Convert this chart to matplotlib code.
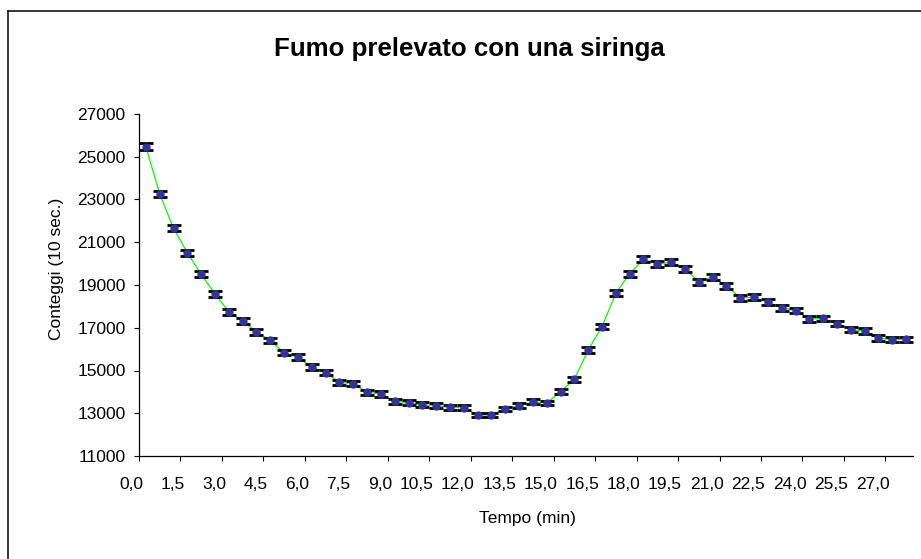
import matplotlib
matplotlib.use("Agg")
import matplotlib.pyplot as plt
from matplotlib.lines import Line2D
import numpy as np

plt.rcParams['font.family'] = ['Liberation Sans', 'DejaVu Sans']

# ---- data ----
title = "Fumo prelevato con una siringa"
x_label = "Tempo (min)"
y_label = "Conteggi (10 sec.)"
time_labels = ["0,0", "1,5", "3,0", "4,5", "6,0", "7,5", "9,0", "10,5", "12,0",
               "13,5", "15,0", "16,5", "18,0", "19,5", "21,0", "22,5", "24,0",
               "25,5", "27,0"]
counts = [25470, 23260, 21650, 20510, 19500, 18580, 17750, 17320, 16800, 16410,
          15830, 15630, 15160, 14900, 14450, 14380, 13990, 13900, 13560, 13500,
          13390, 13360, 13280, 13250, 12920, 12920, 13200, 13360, 13530, 13480,
          14010, 14590, 15960, 17050, 18610, 19530, 20200, 19980, 20060, 19760,
          19160, 19370, 18970, 18410, 18420, 18190, 17940, 17800, 17410, 17440,
          17190, 16910, 16860, 16520, 16440, 16460]
errors = [160, 152, 147, 143, 140, 136, 133, 132, 130, 128, 126, 125, 123, 122,
          120, 120, 118, 118, 116, 116, 116, 116, 115, 115, 114, 114, 115, 116,
          116, 116, 118, 121, 126, 131, 136, 140, 142, 141, 142, 141, 138, 139,
          138, 136, 136, 135, 134, 133, 132, 132, 131, 130, 130, 129, 128, 128]
y_ticks = [11000, 13000, 15000, 17000, 19000, 21000, 23000, 25000, 27000]

W, H = 921, 559
fig = plt.figure(figsize=(W / 100, H / 100), dpi=100)
fig.patch.set_facecolor('white')

# plot area in pixels
L, R, T, B = 139, 913, 114, 456
ax = fig.add_axes([L / W, 1 - B / H, (R - L) / W, (B - T) / H])

n = len(counts)
xs = np.arange(n)

ax.plot(xs, counts, color='#00FF00', lw=0.9, zorder=1)
ax.errorbar(xs, counts, yerr=errors, fmt='none', ecolor='black', elinewidth=1.0,
            capsize=4.7, capthick=2.0, zorder=2)
ax.plot(xs, counts, 'o', color='#333399', markersize=5.0, markeredgecolor='#333399',
        zorder=3, linestyle='none')

ax.set_xlim(-0.5, n - 0.5)
ax.set_ylim(y_ticks[0], y_ticks[-1])

# y axis
ax.set_yticks(y_ticks)
ax.set_yticklabels([str(v) for v in y_ticks])
ax.tick_params(axis='y', direction='out', length=3.6, width=0.8, pad=6.0,
               labelsize=12.5, colors='black')

# x axis: tick marks between category groups, labels right-aligned near ticks
group = 3
major_pos = [-0.5 + group * k for k in range(len(time_labels))]
label_pos = [p + 0.29 for p in major_pos]
ax.set_xticks(major_pos)
ax.set_xticklabels([''] * len(major_pos))
ax.set_xticks(label_pos, minor=True)
ax.set_xticklabels(time_labels, minor=True, ha='right')
ax.tick_params(axis='x', which='major', direction='out', length=3.6, width=0.8)
ax.tick_params(axis='x', which='minor', length=0, pad=15.0, labelsize=12.5)

for s in ['top', 'right']:
    ax.spines[s].set_visible(False)
for s in ['left', 'bottom']:
    ax.spines[s].set_color('black')
    ax.spines[s].set_linewidth(0.9)

# texts
fig.text(469 / W, 1 - 56 / H, title, ha='center', va='baseline',
         fontsize=18.6, fontweight='bold')
fig.text(527 / W, 1 - 523 / H, x_label, ha='center', va='baseline', fontsize=12.5)
fig.text(56 / W, 1 - 269 / H, y_label, ha='center', va='center', rotation=90,
         fontsize=12.5)

# chart-area border (only left and top visible in the crop)
fig.add_artist(Line2D([7.5 / W, 7.5 / W], [1 - 10.5 / H, 0], transform=fig.transFigure,
                      color='black', lw=1.1))
fig.add_artist(Line2D([7.5 / W, 1], [1 - 10.5 / H, 1 - 10.5 / H], transform=fig.transFigure,
                      color='black', lw=1.1))

fig.savefig('out.png', dpi=100)
